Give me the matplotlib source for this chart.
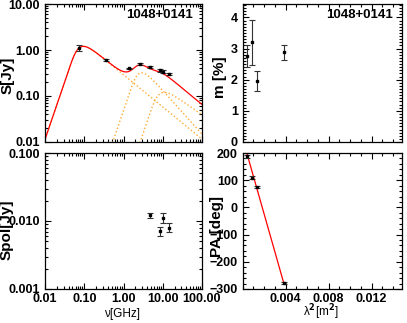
import numpy as np
import matplotlib
matplotlib.use('Agg')
import matplotlib.pyplot as plt
from matplotlib.ticker import FormatStrFormatter, MultipleLocator, LogLocator, NullFormatter

plt.rcParams['font.family'] = ['Liberation Sans', 'DejaVu Sans']
plt.rcParams['font.weight'] = 'bold'

source = '1048+0141'

# total flux density spectrum (GHz, Jy)
freq = [0.074, 0.365, 1.4, 2.64, 4.85, 8.35, 10.45, 14.6]
flux = [1.10, 0.60, 0.40, 0.49, 0.43, 0.36, 0.34, 0.30]
flux_err = [0.17, 0.03, 0.015, 0.02, 0.02, 0.02, 0.02, 0.02]

# fitted synchrotron components: peak frequency, peak flux, thin index
comp_nu = [0.095, 2.9, 11.0]
comp_s = [1.2, 0.32, 0.12]
comp_alpha = [-0.7, -0.95, -0.6]

# polarization
pol_freq = [4.85, 8.35, 10.45, 14.6]
pol_flux = [0.0121, 0.0071, 0.0112, 0.0080]
pol_err = [0.0010, 0.0011, 0.0019, 0.0012]
m_pct = [2.88, 1.96, 3.20, 2.75]
m_err = [0.24, 0.31, 0.73, 0.35]
pa = [-278, 75, 109, 188]
pa_err = [5, 5, 5, 5]
pa_fit = [253, -139000]   # PA0 [deg], slope [deg/m^2]

lam2 = (0.29979 / np.array(pol_freq)) ** 2


def component(nu, nu_p, s_p, alpha):
    # homogeneous self-absorbed synchrotron spectrum with given peak
    k = 2.5 - alpha
    t = np.linspace(1e-3, 3, 5000)
    tp = t[np.argmin(abs(t / np.expm1(t) - 2.5 / k))]
    nu_c = nu_p * tp ** (1 / k)
    s_c = s_p / ((nu_p / nu_c) ** 2.5 * (1 - np.exp(-tp)))
    x = nu / nu_c
    return s_c * x ** 2.5 * (1 - np.exp(-x ** (-k)))


fig = plt.figure(figsize=(4.07, 3.23), dpi=100)
ax1 = fig.add_axes([0.1106, 0.5604, 0.3857, 0.4272])
ax2 = fig.add_axes([0.5963, 0.5604, 0.3907, 0.4272])
ax3 = fig.add_axes([0.1106, 0.1053, 0.3857, 0.4210])
ax4 = fig.add_axes([0.5963, 0.1053, 0.3907, 0.4210])

for ax in [ax1, ax2, ax3, ax4]:
    ax.tick_params(which='both', direction='in', top=True, right=True, width=0.8, labelsize=9)
    ax.tick_params(which='major', length=4.5)
    ax.tick_params(which='minor', length=2.2)
    ax.tick_params(axis='x', pad=3)
    for s in ax.spines.values():
        s.set_linewidth(0.9)

ebar = dict(fmt='s', ms=2, color='black', ecolor='#333333', elinewidth=0.8, capsize=2.5, capthick=0.8)

# S spectrum
nu = np.logspace(-2, 2, 400)
total = np.zeros_like(nu)
for n0, s0, a0 in zip(comp_nu, comp_s, comp_alpha):
    c = component(nu, n0, s0, a0)
    total += c
    ax1.plot(nu, c, ls=':', color='#ffaa33', lw=1.0)
ax1.plot(nu, total, color='red', lw=0.9)
ax1.errorbar(freq, flux, yerr=flux_err, **ebar)
ax1.set_xscale('log')
ax1.set_yscale('log')
ax1.set_xlim(0.01, 100)
ax1.set_ylim(0.01, 10)
ax1.yaxis.set_major_formatter(FormatStrFormatter('%.2f'))
ax1.xaxis.set_major_formatter(NullFormatter())
ax1.text(0.945, 0.92, source, transform=ax1.transAxes, ha='right', va='center',
         fontsize=9.5, fontweight='bold')

# fractional polarization
ax2.errorbar(lam2, m_pct, yerr=m_err, **ebar)
ax2.set_xlim(0, 0.0148)
ax2.set_ylim(0, 4.43)
ax2.xaxis.set_major_locator(MultipleLocator(0.004))
ax2.xaxis.set_minor_locator(MultipleLocator(0.001))
ax2.xaxis.set_major_formatter(NullFormatter())
ax2.yaxis.set_major_locator(MultipleLocator(1))
ax2.yaxis.set_minor_locator(MultipleLocator(0.1))
ax2.text(0.945, 0.92, source, transform=ax2.transAxes, ha='right', va='center',
         fontsize=9.5, fontweight='bold')

# polarized flux
ax3.errorbar(pol_freq, pol_flux, yerr=pol_err, **ebar)
ax3.set_xscale('log')
ax3.set_yscale('log')
ax3.set_xlim(0.01, 100)
ax3.set_ylim(0.001, 0.1)
ax3.xaxis.set_major_formatter(FormatStrFormatter('%.2f'))
ax3.yaxis.set_major_formatter(FormatStrFormatter('%.3f'))

for ax in [ax1, ax3]:
    ax.xaxis.set_major_locator(LogLocator(10))
    ax.xaxis.set_minor_locator(LogLocator(10, subs=np.arange(2, 10)))
    ax.yaxis.set_major_locator(LogLocator(10))
    ax.yaxis.set_minor_locator(LogLocator(10, subs=np.arange(2, 10)))
    ax.xaxis.set_minor_formatter(NullFormatter())
    ax.yaxis.set_minor_formatter(NullFormatter())

# position angle
l2 = np.array([lam2.min(), lam2.max()])
ax4.plot(l2, pa_fit[0] + pa_fit[1] * l2, color='red', lw=0.9)
ax4.errorbar(lam2, pa, yerr=pa_err, **ebar)
ax4.set_xlim(0, 0.0148)
ax4.set_ylim(-300, 200)
ax4.set_xticks([0.004, 0.008, 0.012])
ax4.xaxis.set_minor_locator(MultipleLocator(0.001))
ax4.xaxis.set_major_formatter(FormatStrFormatter('%.3f'))
ax4.yaxis.set_major_locator(MultipleLocator(100))
ax4.yaxis.set_minor_locator(MultipleLocator(20))

# axis titles
fig.text(0.019, 0.768, 'S[Jy]', rotation=90, ha='center', va='center', fontsize=11, fontweight='bold')
fig.text(0.017, 0.288, 'Spol[Jy]', rotation=90, ha='center', va='center', fontsize=11, fontweight='bold')
fig.text(0.540, 0.762, 'm [%]', rotation=90, ha='center', va='center', fontsize=11, fontweight='bold')
fig.text(0.532, 0.299, 'PA [deg]', rotation=90, ha='center', va='center', fontsize=11, fontweight='bold')
fig.text(0.300, 0.008, 'ν[GHz]', ha='center', va='bottom', fontsize=8.5, fontweight='normal')
fig.text(0.789, 0.004, 'λ$^2$[m$^2$]', ha='center', va='bottom', fontsize=8.5, fontweight='normal')

fig.savefig('out.png', dpi=100)
